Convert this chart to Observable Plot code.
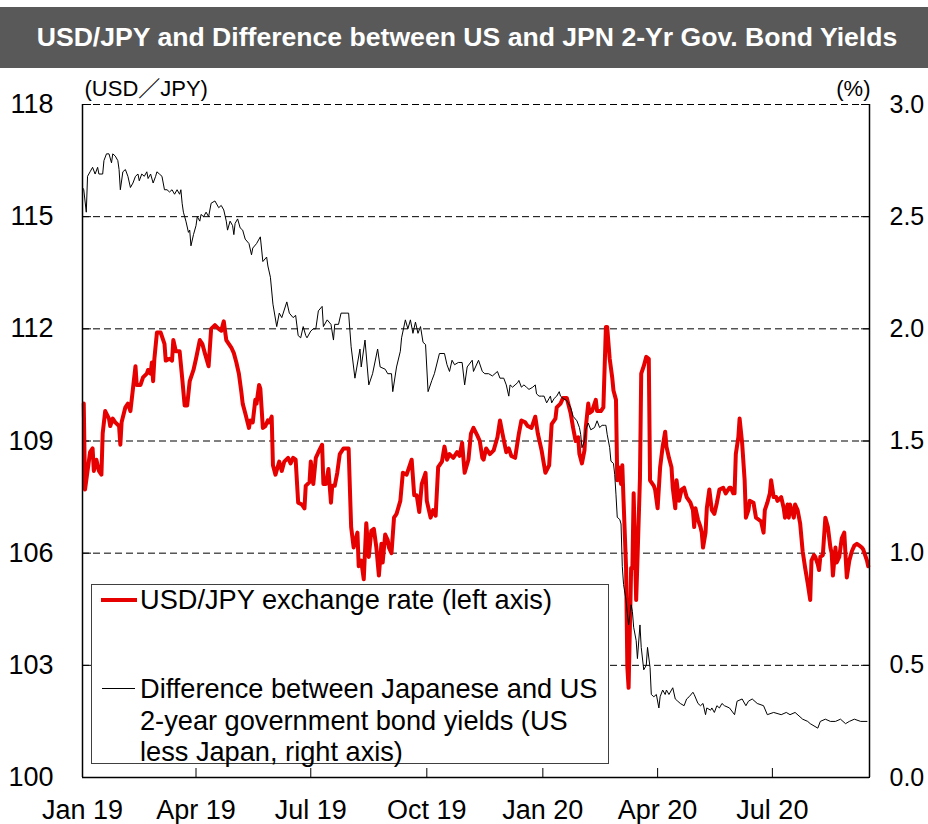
<!DOCTYPE html>
<html><head><meta charset="utf-8">
<script src="https://cdn.jsdelivr.net/npm/d3@7"></script>
<script src="https://cdn.jsdelivr.net/npm/@observablehq/plot@0.6"></script>
<style>
body{margin:0;background:#fff;font-family:"Liberation Sans",Arial,sans-serif;}
#wrap{position:relative;width:928px;height:824px;overflow:hidden;}
#title{position:absolute;left:0;top:7px;width:928px;height:61px;background:#595959;color:#fff;font-weight:bold;font-size:26.6px;display:flex;align-items:center;justify-content:center;white-space:nowrap;padding-left:6px;box-sizing:border-box;}
#chart{position:absolute;left:0;top:68px;}
#legend{position:absolute;left:91px;top:584px;width:518px;height:180px;border:1.5px solid #404040;background:#fff;box-sizing:border-box;}
.sw{position:absolute;}
.lt{position:absolute;left:140px;font-size:27.2px;color:#000;white-space:nowrap;}
</style>
</head><body>
<div id="wrap">
  <div id="title">USD/JPY and Difference between US and JPN 2-Yr Gov. Bond Yields</div>
  <div id="chart"></div>
  <div id="legend"></div>
  <div class="sw" style="left:101px;top:598px;width:36px;height:4px;background:#e60000;"></div>
  <div class="lt" style="top:585px;line-height:30px;">USD/JPY exchange rate (left axis)</div>
  <div class="sw" style="left:102px;top:688px;width:33px;height:1px;background:#000;"></div>
  <div class="lt" style="top:673px;line-height:31.5px;">Difference between Japanese and US<br>2-year government bond yields (US<br>less Japan, right axis)</div>
</div>
<script>
const legendLabels = ["USD/JPY exchange rate (left axis)", "Difference between Japanese and US 2-year government bond yields (US less Japan, right axis)"];
const xTicks = ["2019-01-01","2019-04-01","2019-07-01","2019-10-01","2020-01-01","2020-04-01","2020-07-01"];
const leftTicks = [100,103,106,109,112,115,118];
const rightTicks = [0.0,0.5,1.0,1.5,2.0,2.5,3.0];
const xDomain = ["2019-01-01","2020-09-16"];

const usdjpy = [["2019-01-02",110.0],["2019-01-03",107.7],["2019-01-07",108.7],["2019-01-09",108.8],["2019-01-10",108.2],["2019-01-12",108.5],["2019-01-14",108.2],["2019-01-16",108.1],["2019-01-17",109.2],["2019-01-19",109.8],["2019-01-22",109.6],["2019-01-23",109.4],["2019-01-25",109.6],["2019-01-27",109.5],["2019-01-30",109.4],["2019-01-31",108.9],["2019-02-01",109.5],["2019-02-04",109.9],["2019-02-06",110.0],["2019-02-08",109.8],["2019-02-10",110.4],["2019-02-12",111.0],["2019-02-13",110.5],["2019-02-16",110.5],["2019-02-18",110.7],["2019-02-21",110.8],["2019-02-22",110.9],["2019-02-24",110.8],["2019-02-25",111.1],["2019-02-26",110.6],["2019-02-27",111.2],["2019-03-01",111.9],["2019-03-04",111.9],["2019-03-07",111.6],["2019-03-08",111.15],["2019-03-11",111.2],["2019-03-13",111.15],["2019-03-14",111.7],["2019-03-16",111.4],["2019-03-19",111.4],["2019-03-21",110.7],["2019-03-23",109.95],["2019-03-25",109.95],["2019-03-27",110.6],["2019-03-30",110.9],["2019-04-01",111.2],["2019-04-04",111.7],["2019-04-06",111.6],["2019-04-08",111.35],["2019-04-11",111.0],["2019-04-13",112.0],["2019-04-16",112.1],["2019-04-19",112.0],["2019-04-21",111.95],["2019-04-23",112.2],["2019-04-25",111.7],["2019-04-27",111.6],["2019-04-29",111.5],["2019-05-01",111.35],["2019-05-03",111.1],["2019-05-05",110.8],["2019-05-07",110.3],["2019-05-08",110.0],["2019-05-10",109.75],["2019-05-13",109.35],["2019-05-14",109.55],["2019-05-16",109.5],["2019-05-18",110.1],["2019-05-19",110.0],["2019-05-21",110.5],["2019-05-22",110.4],["2019-05-24",109.35],["2019-05-26",109.4],["2019-05-28",109.55],["2019-05-29",109.5],["2019-05-31",109.65],["2019-06-01",108.35],["2019-06-03",108.1],["2019-06-06",108.45],["2019-06-08",108.2],["2019-06-10",108.45],["2019-06-13",108.55],["2019-06-15",108.4],["2019-06-17",108.55],["2019-06-19",108.5],["2019-06-21",107.35],["2019-06-24",107.3],["2019-06-26",107.2],["2019-06-27",107.8],["2019-06-30",107.9],["2019-07-01",108.45],["2019-07-03",107.85],["2019-07-05",108.55],["2019-07-07",108.7],["2019-07-10",108.9],["2019-07-11",107.85],["2019-07-13",107.85],["2019-07-15",108.25],["2019-07-17",107.35],["2019-07-18",107.8],["2019-07-20",107.8],["2019-07-22",108.15],["2019-07-24",108.65],["2019-07-27",108.8],["2019-07-31",108.8],["2019-08-02",106.7],["2019-08-04",106.15],["2019-08-07",106.55],["2019-08-08",105.65],["2019-08-10",105.8],["2019-08-12",105.3],["2019-08-14",106.8],["2019-08-16",105.9],["2019-08-18",106.6],["2019-08-20",106.65],["2019-08-22",106.15],["2019-08-24",105.4],["2019-08-26",106.25],["2019-08-27",105.75],["2019-08-29",106.5],["2019-08-31",106.35],["2019-09-01",106.15],["2019-09-03",106.0],["2019-09-05",106.95],["2019-09-07",107.05],["2019-09-10",107.4],["2019-09-12",108.15],["2019-09-15",108.1],["2019-09-19",108.5],["2019-09-21",107.55],["2019-09-23",107.55],["2019-09-25",107.1],["2019-09-27",107.85],["2019-09-30",108.15],["2019-10-01",107.4],["2019-10-04",106.95],["2019-10-06",107.15],["2019-10-08",107.0],["2019-10-10",108.3],["2019-10-13",108.45],["2019-10-15",108.85],["2019-10-17",108.5],["2019-10-19",108.65],["2019-10-22",108.55],["2019-10-25",108.7],["2019-10-27",108.6],["2019-10-29",108.95],["2019-10-31",108.15],["2019-11-03",108.5],["2019-11-05",109.2],["2019-11-07",109.35],["2019-11-10",109.15],["2019-11-12",109.0],["2019-11-14",108.55],["2019-11-15",108.5],["2019-11-17",108.8],["2019-11-20",108.65],["2019-11-23",108.75],["2019-11-26",109.1],["2019-11-28",109.55],["2019-11-30",109.2],["2019-12-03",108.7],["2019-12-05",108.8],["2019-12-07",108.6],["2019-12-10",108.55],["2019-12-13",109.2],["2019-12-15",109.55],["2019-12-18",109.5],["2019-12-20",109.4],["2019-12-23",109.35],["2019-12-26",109.65],["2019-12-28",109.2],["2019-12-31",108.75],["2020-01-03",108.15],["2020-01-06",108.35],["2020-01-08",109.45],["2020-01-11",109.6],["2020-01-12",109.9],["2020-01-15",110.0],["2020-01-17",110.15],["2020-01-19",110.15],["2020-01-20",110.15],["2020-01-23",109.75],["2020-01-25",109.35],["2020-01-27",109.0],["2020-01-29",109.1],["2020-01-30",108.65],["2020-02-01",108.4],["2020-02-03",108.75],["2020-02-04",109.35],["2020-02-06",110.0],["2020-02-07",109.75],["2020-02-09",109.8],["2020-02-12",110.1],["2020-02-13",109.8],["2020-02-16",109.8],["2020-02-18",109.9],["2020-02-20",112.05],["2020-02-21",112.05],["2020-02-23",111.2],["2020-02-25",110.7],["2020-02-26",110.35],["2020-02-28",110.1],["2020-02-29",107.95],["2020-03-01",108.3],["2020-03-03",107.85],["2020-03-04",108.35],["2020-03-05",107.4],["2020-03-07",105.6],["2020-03-08",102.95],["2020-03-09",102.4],["2020-03-11",105.6],["2020-03-12",105.6],["2020-03-13",107.6],["2020-03-15",104.75],["2020-03-16",105.8],["2020-03-18",108.0],["2020-03-19",110.8],["2020-03-21",111.0],["2020-03-23",111.25],["2020-03-25",111.2],["2020-03-26",107.95],["2020-03-29",107.8],["2020-03-30",107.7],["2020-04-01",107.2],["2020-04-03",108.3],["2020-04-05",108.85],["2020-04-07",109.25],["2020-04-08",108.85],["2020-04-10",108.55],["2020-04-12",108.3],["2020-04-13",107.75],["2020-04-15",107.2],["2020-04-16",107.95],["2020-04-18",107.4],["2020-04-20",107.7],["2020-04-22",107.75],["2020-04-24",107.5],["2020-04-27",107.35],["2020-04-29",107.15],["2020-04-30",106.7],["2020-05-01",107.2],["2020-05-03",106.9],["2020-05-05",106.7],["2020-05-06",106.55],["2020-05-07",106.15],["2020-05-09",106.55],["2020-05-10",107.2],["2020-05-12",107.7],["2020-05-14",107.15],["2020-05-16",107.05],["2020-05-18",107.35],["2020-05-20",107.7],["2020-05-23",107.75],["2020-05-25",107.6],["2020-05-28",107.75],["2020-05-29",107.75],["2020-05-31",107.6],["2020-06-01",107.6],["2020-06-02",108.65],["2020-06-04",109.1],["2020-06-05",109.6],["2020-06-07",108.95],["2020-06-09",107.95],["2020-06-10",106.95],["2020-06-12",107.15],["2020-06-13",107.4],["2020-06-16",107.35],["2020-06-18",106.95],["2020-06-20",106.9],["2020-06-22",106.85],["2020-06-24",106.55],["2020-06-25",107.15],["2020-06-27",107.35],["2020-06-29",107.6],["2020-06-30",107.95],["2020-07-02",107.5],["2020-07-04",107.5],["2020-07-05",107.4],["2020-07-08",107.5],["2020-07-10",107.2],["2020-07-11",106.95],["2020-07-13",107.3],["2020-07-14",106.95],["2020-07-15",107.3],["2020-07-18",106.95],["2020-07-19",107.3],["2020-07-21",107.15],["2020-07-23",106.8],["2020-07-25",106.05],["2020-07-27",105.6],["2020-07-29",105.2],["2020-07-31",104.75],["2020-08-01",105.8],["2020-08-03",105.95],["2020-08-04",105.9],["2020-08-06",105.7],["2020-08-07",105.55],["2020-08-08",105.9],["2020-08-10",105.95],["2020-08-12",106.95],["2020-08-14",106.7],["2020-08-16",106.15],["2020-08-17",106.0],["2020-08-18",105.4],["2020-08-20",106.15],["2020-08-21",105.75],["2020-08-23",105.9],["2020-08-25",106.4],["2020-08-27",106.55],["2020-08-29",105.35],["2020-08-31",105.8],["2020-09-02",106.05],["2020-09-04",106.2],["2020-09-06",106.25],["2020-09-08",106.2],["2020-09-10",106.15],["2020-09-11",106.1],["2020-09-14",105.8],["2020-09-15",105.65]];

const spread = [["2019-01-01",2.63],["2019-01-02",2.62],["2019-01-04",2.52],["2019-01-05",2.68],["2019-01-07",2.70],["2019-01-09",2.72],["2019-01-11",2.69],["2019-01-13",2.72],["2019-01-14",2.69],["2019-01-17",2.69],["2019-01-18",2.75],["2019-01-20",2.78],["2019-01-22",2.78],["2019-01-24",2.74],["2019-01-25",2.78],["2019-01-27",2.77],["2019-01-29",2.75],["2019-01-30",2.71],["2019-01-31",2.62],["2019-02-02",2.70],["2019-02-04",2.71],["2019-02-06",2.68],["2019-02-08",2.63],["2019-02-10",2.65],["2019-02-12",2.68],["2019-02-14",2.69],["2019-02-15",2.66],["2019-02-17",2.69],["2019-02-19",2.68],["2019-02-21",2.70],["2019-02-22",2.67],["2019-02-24",2.69],["2019-02-26",2.65],["2019-02-28",2.68],["2019-03-01",2.70],["2019-03-03",2.69],["2019-03-05",2.68],["2019-03-07",2.62],["2019-03-09",2.62],["2019-03-11",2.61],["2019-03-13",2.62],["2019-03-15",2.60],["2019-03-17",2.62],["2019-03-19",2.60],["2019-03-20",2.62],["2019-03-21",2.56],["2019-03-22",2.52],["2019-03-24",2.48],["2019-03-26",2.43],["2019-03-27",2.44],["2019-03-28",2.37],["2019-03-30",2.42],["2019-04-01",2.46],["2019-04-02",2.50],["2019-04-04",2.48],["2019-04-05",2.51],["2019-04-07",2.50],["2019-04-09",2.52],["2019-04-11",2.50],["2019-04-13",2.56],["2019-04-16",2.57],["2019-04-19",2.54],["2019-04-21",2.55],["2019-04-23",2.53],["2019-04-25",2.48],["2019-04-26",2.44],["2019-04-28",2.48],["2019-04-30",2.46],["2019-05-01",2.42],["2019-05-02",2.47],["2019-05-04",2.49],["2019-05-06",2.45],["2019-05-08",2.44],["2019-05-10",2.40],["2019-05-13",2.38],["2019-05-15",2.33],["2019-05-16",2.36],["2019-05-19",2.38],["2019-05-22",2.41],["2019-05-24",2.30],["2019-05-27",2.32],["2019-05-28",2.28],["2019-05-30",2.23],["2019-06-01",2.11],["2019-06-04",2.01],["2019-06-06",2.07],["2019-06-08",2.05],["2019-06-12",2.12],["2019-06-14",2.07],["2019-06-17",2.05],["2019-06-19",2.06],["2019-06-21",1.97],["2019-06-23",1.96],["2019-06-25",2.01],["2019-06-27",1.97],["2019-06-28",1.96],["2019-07-01",1.99],["2019-07-03",2.00],["2019-07-05",2.00],["2019-07-07",2.08],["2019-07-10",2.10],["2019-07-11",2.01],["2019-07-14",2.04],["2019-07-17",2.02],["2019-07-19",1.95],["2019-07-20",2.02],["2019-07-23",2.02],["2019-07-25",2.07],["2019-07-29",2.07],["2019-07-31",2.07],["2019-08-02",1.92],["2019-08-05",1.78],["2019-08-09",1.91],["2019-08-10",1.83],["2019-08-13",1.95],["2019-08-16",1.75],["2019-08-19",1.80],["2019-08-23",1.91],["2019-08-25",1.83],["2019-08-29",1.82],["2019-08-31",1.80],["2019-09-03",1.80],["2019-09-04",1.72],["2019-09-07",1.83],["2019-09-10",1.90],["2019-09-11",1.96],["2019-09-14",2.04],["2019-09-16",2.00],["2019-09-18",2.04],["2019-09-20",1.98],["2019-09-22",2.03],["2019-09-24",1.98],["2019-09-26",2.01],["2019-09-28",1.94],["2019-09-30",1.93],["2019-10-02",1.72],["2019-10-05",1.77],["2019-10-07",1.80],["2019-10-11",1.89],["2019-10-15",1.89],["2019-10-17",1.84],["2019-10-19",1.81],["2019-10-21",1.86],["2019-10-23",1.84],["2019-10-26",1.85],["2019-10-29",1.85],["2019-10-31",1.75],["2019-11-02",1.83],["2019-11-06",1.86],["2019-11-07",1.81],["2019-11-11",1.86],["2019-11-14",1.81],["2019-11-16",1.80],["2019-11-19",1.80],["2019-11-22",1.79],["2019-11-26",1.81],["2019-11-28",1.78],["2019-12-01",1.78],["2019-12-03",1.75],["2019-12-05",1.70],["2019-12-06",1.75],["2019-12-08",1.74],["2019-12-10",1.75],["2019-12-12",1.76],["2019-12-13",1.77],["2019-12-15",1.74],["2019-12-17",1.75],["2019-12-19",1.74],["2019-12-21",1.73],["2019-12-24",1.74],["2019-12-26",1.75],["2019-12-27",1.71],["2019-12-29",1.70],["2019-12-31",1.70],["2020-01-02",1.70],["2020-01-04",1.67],["2020-01-06",1.69],["2020-01-07",1.70],["2020-01-08",1.67],["2020-01-10",1.69],["2020-01-12",1.70],["2020-01-14",1.72],["2020-01-15",1.70],["2020-01-17",1.69],["2020-01-20",1.68],["2020-01-23",1.65],["2020-01-25",1.61],["2020-01-28",1.59],["2020-01-30",1.56],["2020-01-31",1.53],["2020-02-01",1.47],["2020-02-03",1.50],["2020-02-04",1.55],["2020-02-06",1.58],["2020-02-08",1.55],["2020-02-11",1.56],["2020-02-13",1.59],["2020-02-15",1.56],["2020-02-17",1.57],["2020-02-19",1.57],["2020-02-20",1.57],["2020-02-21",1.53],["2020-02-23",1.47],["2020-02-24",1.41],["2020-02-26",1.40],["2020-02-27",1.35],["2020-02-28",1.26],["2020-02-29",1.16],["2020-03-02",1.15],["2020-03-03",1.13],["2020-03-04",0.94],["2020-03-05",0.86],["2020-03-07",0.79],["2020-03-08",0.73],["2020-03-09",0.68],["2020-03-11",0.77],["2020-03-12",0.74],["2020-03-13",0.67],["2020-03-15",0.61],["2020-03-16",0.53],["2020-03-18",0.68],["2020-03-19",0.58],["2020-03-21",0.48],["2020-03-23",0.50],["2020-03-24",0.58],["2020-03-26",0.49],["2020-03-27",0.37],["2020-03-29",0.36],["2020-03-31",0.37],["2020-04-02",0.31],["2020-04-03",0.36],["2020-04-05",0.39],["2020-04-07",0.37],["2020-04-08",0.39],["2020-04-10",0.37],["2020-04-12",0.39],["2020-04-13",0.40],["2020-04-15",0.35],["2020-04-17",0.34],["2020-04-19",0.33],["2020-04-22",0.32],["2020-04-24",0.35],["2020-04-26",0.36],["2020-04-29",0.38],["2020-04-30",0.37],["2020-05-03",0.33],["2020-05-05",0.32],["2020-05-07",0.33],["2020-05-09",0.28],["2020-05-10",0.31],["2020-05-13",0.30],["2020-05-14",0.31],["2020-05-16",0.29],["2020-05-18",0.32],["2020-05-20",0.31],["2020-05-22",0.33],["2020-05-24",0.32],["2020-05-28",0.31],["2020-06-01",0.28],["2020-06-03",0.34],["2020-06-07",0.35],["2020-06-10",0.32],["2020-06-12",0.34],["2020-06-15",0.35],["2020-06-19",0.33],["2020-06-24",0.32],["2020-06-27",0.28],["2020-07-02",0.29],["2020-07-08",0.28],["2020-07-12",0.29],["2020-07-15",0.28],["2020-07-19",0.29],["2020-07-25",0.26],["2020-07-29",0.25],["2020-07-31",0.24],["2020-08-03",0.23],["2020-08-06",0.22],["2020-08-08",0.25],["2020-08-12",0.26],["2020-08-16",0.25],["2020-08-20",0.25],["2020-08-24",0.26],["2020-08-28",0.24],["2020-08-31",0.25],["2020-09-04",0.26],["2020-09-09",0.25],["2020-09-14",0.25]];

// right axis (%) mapped onto the left scale: 0.0 -> 100, 3.0 -> 118
const toLeft = s => 100 + s * 6;
const date = s => new Date(s);
const xs = xDomain.map(date);

const chart = Plot.plot({
  width: 928, height: 756,
  marginTop: 36, marginBottom: 47, marginLeft: 82, marginRight: 59,
  style: {fontFamily: "'Liberation Sans', Arial, 'Noto Sans CJK JP', sans-serif", fontSize: "27px", color: "#000", background: "transparent", overflow: "visible"},
  x: {type: "utc", domain: xs},
  y: {domain: [100, 118]},
  marks: [
    Plot.ruleY(leftTicks.slice(1), {stroke: "#000", strokeWidth: 1, strokeDasharray: "7,4"}),
    Plot.axisY({anchor: "left", ticks: leftTicks, tickFormat: d => String(d), tickSize: -9, tickPadding: 38, label: null}),
    Plot.axisY({anchor: "right", ticks: rightTicks.map(toLeft), tickFormat: d => ((d - 100) / 6).toFixed(1), tickSize: -9, tickPadding: 29, fontSize: 25, label: null}),
    Plot.axisX({anchor: "bottom", ticks: xTicks.map(date), tickFormat: d3.utcFormat("%b %y"), tickSize: -9, tickPadding: 31, label: null}),
    Plot.line(usdjpy, {x: d => date(d[0]), y: d => d[1], stroke: "#e60000", strokeWidth: 4, strokeLinejoin: "round", strokeLinecap: "round"}),
    Plot.line(spread, {x: d => date(d[0]), y: d => toLeft(d[1]), stroke: "#000", strokeWidth: 1}),
    Plot.ruleX(xs, {stroke: "#000", strokeWidth: 1.5}),
    Plot.ruleY([100], {stroke: "#000", strokeWidth: 1.5}),
    Plot.text(["(USD／JPY)"], {frameAnchor: "top-left", dx: 2, dy: -16, lineAnchor: "middle", textAnchor: "start", fontSize: 22}),
    Plot.text(["(%)"], {frameAnchor: "top-right", dx: 1, dy: -16, lineAnchor: "middle", textAnchor: "end", fontSize: 22})
  ]
});
document.getElementById("chart").appendChild(chart);
</script>
</body></html>
